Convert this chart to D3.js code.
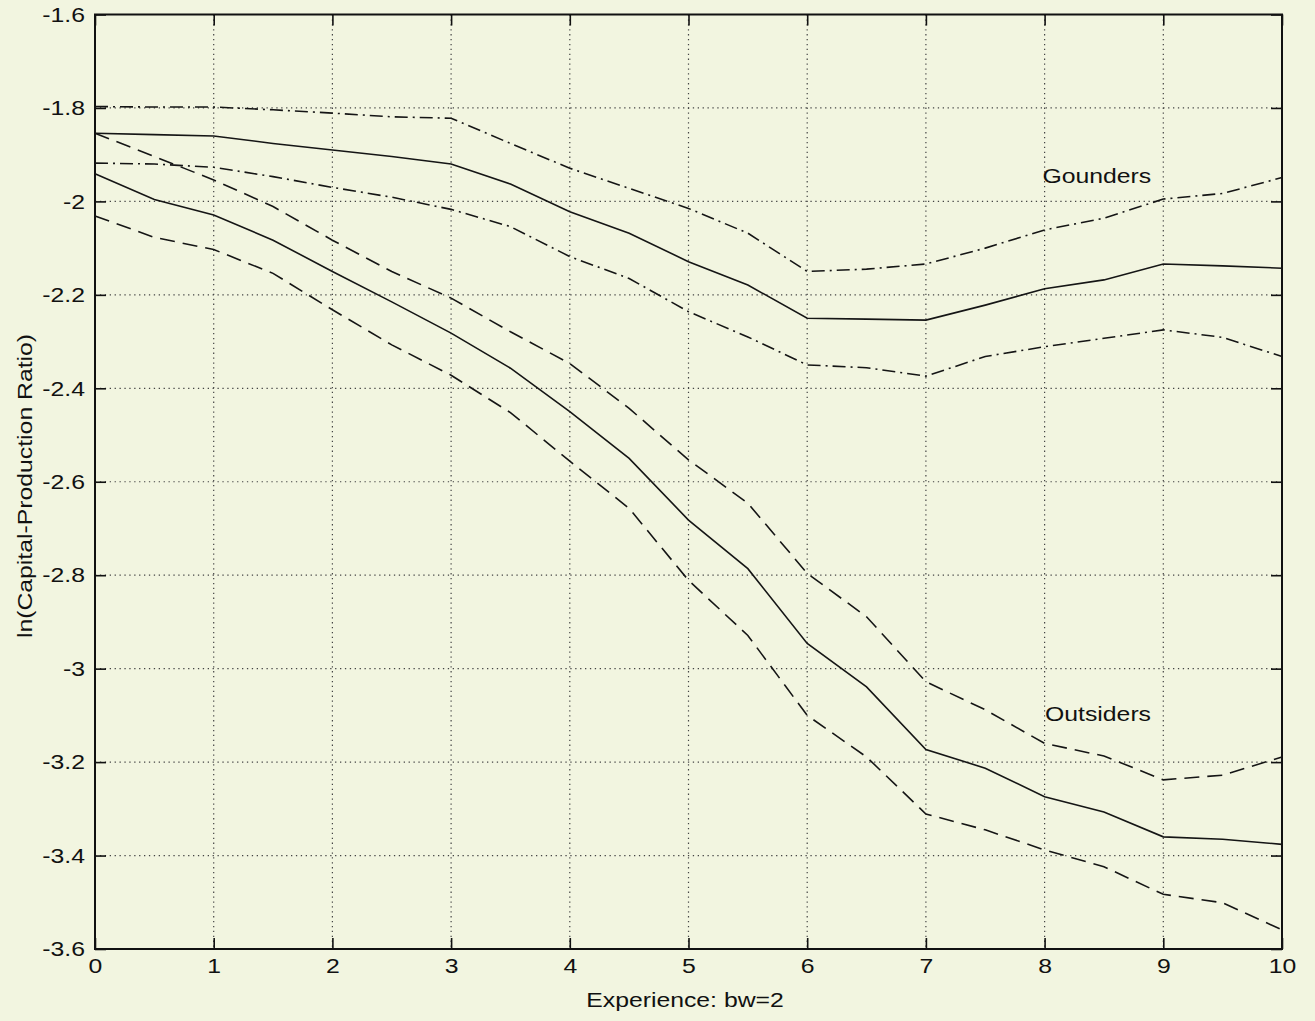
<!DOCTYPE html>
<html>
<head>
<meta charset="utf-8">
<script src="https://cdn.jsdelivr.net/npm/d3@7/dist/d3.min.js"></script>
<style>
  html, body { margin: 0; padding: 0; background: #f2f5e0; }
  svg { display: block; }
  text { font-family: "Liberation Sans", Arial, Helvetica, sans-serif; fill: #111; }
</style>
</head>
<body>
<svg id="chart" width="1315" height="1021"></svg>
<script>
// Experience grid (bandwidth 2) and kernel estimates with confidence bands
const experience = [0, 0.5, 1, 1.5, 2, 2.5, 3, 3.5, 4, 4.5, 5, 5.5, 6, 6.5, 7, 7.5, 8, 8.5, 9, 9.5, 10];

const goundersMean  = [-1.854, -1.857, -1.860, -1.876, -1.890, -1.904, -1.920, -1.963, -2.022, -2.068, -2.129, -2.179, -2.250, -2.252, -2.254, -2.222, -2.187, -2.168, -2.134, -2.138, -2.143];
const goundersUpper = [-1.797, -1.798, -1.798, -1.804, -1.811, -1.819, -1.822, -1.876, -1.929, -1.972, -2.015, -2.068, -2.150, -2.145, -2.134, -2.100, -2.061, -2.036, -1.995, -1.983, -1.949];
const goundersLower = [-1.918, -1.920, -1.927, -1.947, -1.970, -1.991, -2.017, -2.054, -2.118, -2.165, -2.236, -2.290, -2.350, -2.356, -2.374, -2.332, -2.311, -2.293, -2.275, -2.291, -2.332];

const outsidersMean  = [-1.941, -1.996, -2.029, -2.083, -2.150, -2.215, -2.282, -2.357, -2.450, -2.550, -2.682, -2.786, -2.946, -3.039, -3.173, -3.213, -3.274, -3.307, -3.360, -3.365, -3.376];
const outsidersUpper = [-1.854, -1.904, -1.954, -2.011, -2.083, -2.150, -2.207, -2.279, -2.347, -2.443, -2.553, -2.646, -2.796, -2.889, -3.028, -3.088, -3.160, -3.187, -3.238, -3.228, -3.189];
const outsidersLower = [-2.031, -2.077, -2.103, -2.154, -2.232, -2.307, -2.372, -2.452, -2.556, -2.657, -2.811, -2.929, -3.100, -3.189, -3.311, -3.345, -3.388, -3.424, -3.483, -3.501, -3.559];

const xTicks = [0, 1, 2, 3, 4, 5, 6, 7, 8, 9, 10];
const yTicks = [-1.6, -1.8, -2, -2.2, -2.4, -2.6, -2.8, -3, -3.2, -3.4, -3.6];
const yTickLabels = ["-1.6", "-1.8", "-2", "-2.2", "-2.4", "-2.6", "-2.8", "-3", "-3.2", "-3.4", "-3.6"];

const groupLabels = [
  { text: "Gounders",  x: 8.44, y: -1.961 },
  { text: "Outsiders", x: 8.45, y: -3.112 }
];

const plot = { left: 95, right: 1282, top: 14.5, bottom: 949 };
const stretch = 1.18;   // wide glyphs
const fontSize = 21;

const svg = d3.select("#chart");
svg.append("rect").attr("width", 1315).attr("height", 1021).attr("fill", "#f2f5e0");

const x = d3.scaleLinear().domain([0, 10]).range([plot.left, plot.right]);
const y = d3.scaleLinear().domain([-3.6, -1.6]).range([plot.bottom, plot.top]);

// dotted grid
const grid = svg.append("g").attr("stroke", "#444").attr("stroke-width", 1.2)
  .attr("stroke-dasharray", "1.3,3.6").attr("fill", "none");
grid.selectAll("line.v").data(xTicks.slice(1, -1)).join("line")
  .attr("x1", d => x(d)).attr("x2", d => x(d))
  .attr("y1", plot.top).attr("y2", plot.bottom);
grid.selectAll("line.h").data(yTicks.slice(1, -1)).join("line")
  .attr("x1", plot.left).attr("x2", plot.right)
  .attr("y1", d => y(d)).attr("y2", d => y(d));

// axes with inward ticks on all four sides
const tickLen = 11;
const ax = svg.append("g");

const bottomAxis = ax.append("g").attr("transform", `translate(0,${plot.bottom})`)
  .call(d3.axisBottom(x).tickValues(xTicks).tickFormat(d3.format("d")).tickSizeInner(-tickLen).tickSizeOuter(0).tickPadding(9));
const topAxis = ax.append("g").attr("transform", `translate(0,${plot.top})`)
  .call(d3.axisTop(x).tickValues(xTicks).tickFormat("").tickSizeInner(-tickLen).tickSizeOuter(0));
const leftAxis = ax.append("g").attr("transform", `translate(${plot.left},0)`)
  .call(d3.axisLeft(y).tickValues(yTicks).tickFormat((d, i) => yTickLabels[i]).tickSizeInner(-tickLen).tickSizeOuter(0).tickPadding(8.5));
const rightAxis = ax.append("g").attr("transform", `translate(${plot.right},0)`)
  .call(d3.axisRight(y).tickValues(yTicks).tickFormat("").tickSizeInner(-tickLen).tickSizeOuter(0));

[bottomAxis, topAxis, leftAxis, rightAxis].forEach(g => {
  g.attr("font-size", fontSize).attr("font-family", "Liberation Sans, Arial, sans-serif");
  g.select(".domain").remove();
  g.selectAll(".tick line").attr("stroke", "#111").attr("stroke-width", 1.6);
  g.selectAll("text").attr("fill", "#111");
});
bottomAxis.selectAll("text").attr("transform", `scale(${stretch},1)`);
leftAxis.selectAll("text").attr("transform", `scale(${stretch},1)`);

// frame
svg.append("rect")
  .attr("x", plot.left).attr("y", plot.top)
  .attr("width", plot.right - plot.left).attr("height", plot.bottom - plot.top)
  .attr("fill", "none").attr("stroke", "#111").attr("stroke-width", 2);

// curves
const line = d3.line().x((d, i) => x(experience[i])).y(d => y(d));
const series = [
  { values: goundersUpper,  dash: "13,5,2,5" },
  { values: goundersMean,   dash: null },
  { values: goundersLower,  dash: "13,5,2,5" },
  { values: outsidersUpper, dash: "15,8" },
  { values: outsidersMean,  dash: null },
  { values: outsidersLower, dash: "15,8" }
];
svg.append("g").selectAll("path").data(series).join("path")
  .attr("d", d => line(d.values))
  .attr("fill", "none")
  .attr("stroke", "#151515")
  .attr("stroke-width", 1.6)
  .attr("stroke-dasharray", d => d.dash);

// group labels
svg.append("g").selectAll("text").data(groupLabels).join("text")
  .attr("transform", d => `translate(${x(d.x)},${y(d.y)}) scale(${stretch},1)`)
  .attr("text-anchor", "middle")
  .attr("font-size", fontSize)
  .text(d => d.text);

// axis titles
svg.append("text")
  .attr("transform", `translate(${(plot.left + plot.right) / 2 - 3.5},1007) scale(${stretch},1)`)
  .attr("text-anchor", "middle").attr("font-size", fontSize)
  .text("Experience: bw=2");

svg.append("text")
  .attr("transform", `translate(32,486) rotate(-90) scale(${stretch},1)`)
  .attr("text-anchor", "middle").attr("font-size", fontSize)
  .text("ln(Capital-Production Ratio)");
</script>
</body>
</html>
